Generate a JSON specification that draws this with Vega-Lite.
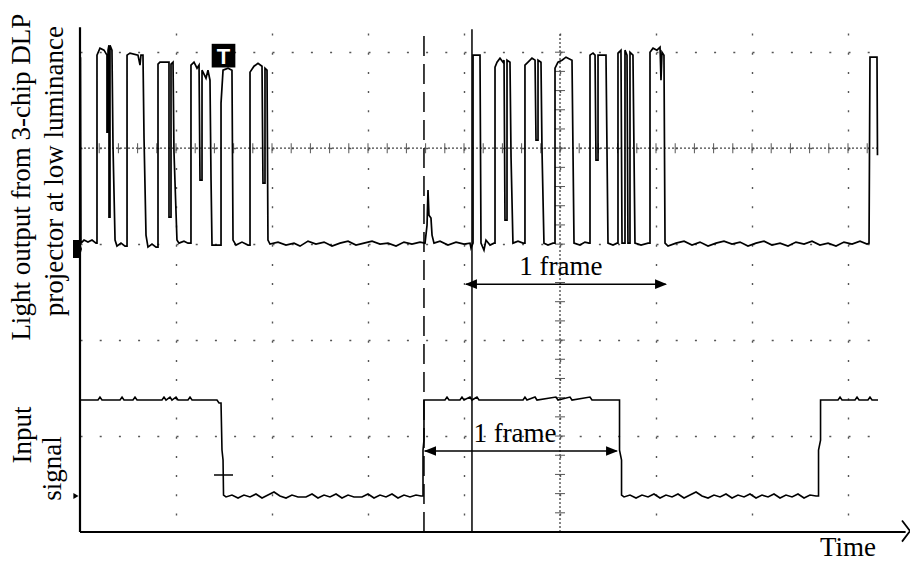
{
  "$schema": "https://vega.github.io/schema/vega-lite/v6.json",
  "autosize": {"type": "none"},
  "padding": {"left": 80, "top": 33, "right": 30, "bottom": 31},
  "width": 800,
  "height": 499,
  "background": "white",
  "config": {"view": {"stroke": null}},
  "datasets": {
    "centerlines": [{"x": 0, "x2": 8.3333, "y": 4, "y2": 4}, {"x": 5, "x2": 5, "y": 0, "y2": 5.2}],
    "hticks": [{"x":0.2,"y":4},{"x":0.4,"y":4},{"x":0.6,"y":4},{"x":0.8,"y":4},{"x":1.0,"y":4},{"x":1.2,"y":4},{"x":1.4,"y":4},{"x":1.6,"y":4},{"x":1.8,"y":4},{"x":2.0,"y":4},{"x":2.2,"y":4},{"x":2.4,"y":4},{"x":2.6,"y":4},{"x":2.8,"y":4},{"x":3.0,"y":4},{"x":3.2,"y":4},{"x":3.4,"y":4},{"x":3.6,"y":4},{"x":3.8,"y":4},{"x":4.0,"y":4},{"x":4.2,"y":4},{"x":4.4,"y":4},{"x":4.6,"y":4},{"x":4.8,"y":4},{"x":5.0,"y":4},{"x":5.2,"y":4},{"x":5.4,"y":4},{"x":5.6,"y":4},{"x":5.8,"y":4},{"x":6.0,"y":4},{"x":6.2,"y":4},{"x":6.4,"y":4},{"x":6.6,"y":4},{"x":6.8,"y":4},{"x":7.0,"y":4},{"x":7.2,"y":4},{"x":7.4,"y":4},{"x":7.6,"y":4},{"x":7.8,"y":4},{"x":8.0,"y":4},{"x":8.2,"y":4}],
    "vticks": [{"x":5,"y":0.2},{"x":5,"y":0.4},{"x":5,"y":0.6},{"x":5,"y":0.8},{"x":5,"y":1.0},{"x":5,"y":1.2},{"x":5,"y":1.4},{"x":5,"y":1.6},{"x":5,"y":1.8},{"x":5,"y":2.0},{"x":5,"y":2.2},{"x":5,"y":2.4},{"x":5,"y":2.6},{"x":5,"y":2.8},{"x":5,"y":3.0},{"x":5,"y":3.2},{"x":5,"y":3.4},{"x":5,"y":3.6},{"x":5,"y":3.8},{"x":5,"y":4.0},{"x":5,"y":4.2},{"x":5,"y":4.4},{"x":5,"y":4.6},{"x":5,"y":4.8},{"x":5,"y":5.0}],
    "dashed": [{"x": 3.583, "x2": 3.583, "y": 0, "y2": 5.24}],
    "solid": [
      {"x": 4.083, "x2": 4.083, "y": 0, "y2": 5.24},
      {"x": 1.396, "x2": 1.594, "y": 0.594, "y2": 0.594},
      {"x": 4.02, "x2": 6.1, "y": 2.583, "y2": 2.583},
      {"x": 3.59, "x2": 5.59, "y": 0.844, "y2": 0.844}
    ],
    "axes": [{"x": 0, "x2": 0, "y": 0, "y2": 5.26}, {"x": 0, "x2": 8.6, "y": 0, "y2": 0}],
    "axisarrow": [{"x": 8.5625, "y": 0.12}, {"x": 8.646, "y": 0.01}, {"x": 8.5625, "y": -0.1}],
    "light": [
      {"x":0.005,"y":4.948},{"x":0.010,"y":3.010},{"x":0.042,"y":3.042},{"x":0.083,"y":3.021},{"x":0.125,"y":3.042},{"x":0.167,"y":3.010},
      {"x":0.177,"y":3.010},{"x":0.177,"y":4.969},{"x":0.208,"y":5.042},{"x":0.25,"y":5.021},{"x":0.281,"y":4.969},{"x":0.281,"y":4.167},{"x":0.292,"y":4.167},{"x":0.292,"y":5.021},{"x":0.302,"y":5.073},{"x":0.302,"y":3.281},{"x":0.3125,"y":3.281},{"x":0.3125,"y":5.073},{"x":0.333,"y":5.021},{"x":0.344,"y":4.010},{"x":0.365,"y":3.042},{"x":0.385,"y":2.979},{"x":0.427,"y":3.010},{"x":0.469,"y":2.979},
      {"x":0.490,"y":2.979},{"x":0.490,"y":4.969},{"x":0.521,"y":4.990},{"x":0.604,"y":4.969},{"x":0.625,"y":4.865},{"x":0.635,"y":4.969},{"x":0.656,"y":4.969},{"x":0.667,"y":4.104},{"x":0.6875,"y":3.094},{"x":0.708,"y":2.969},{"x":0.75,"y":3.0},{"x":0.792,"y":2.969},
      {"x":0.8125,"y":2.969},{"x":0.8125,"y":4.875},{"x":0.833,"y":4.896},{"x":0.927,"y":4.896},{"x":0.927,"y":3.281},{"x":0.948,"y":3.281},{"x":0.948,"y":4.875},{"x":0.969,"y":4.896},{"x":0.979,"y":3.958},{"x":1.010,"y":3.042},{"x":1.031,"y":3.010},{"x":1.083,"y":3.031},{"x":1.125,"y":3.010},
      {"x":1.156,"y":3.010},{"x":1.156,"y":4.865},{"x":1.1875,"y":4.896},{"x":1.219,"y":4.833},{"x":1.240,"y":4.865},{"x":1.25,"y":3.667},{"x":1.271,"y":3.667},{"x":1.271,"y":4.8125},{"x":1.3125,"y":4.729},{"x":1.333,"y":4.8125},{"x":1.354,"y":4.708},{"x":1.365,"y":3.667},{"x":1.375,"y":2.990},{"x":1.448,"y":2.990},
      {"x":1.469,"y":2.990},{"x":1.469,"y":4.469},{"x":1.490,"y":4.8125},{"x":1.542,"y":4.833},{"x":1.583,"y":4.8125},{"x":1.594,"y":3.042},{"x":1.625,"y":2.990},{"x":1.6875,"y":3.021},{"x":1.75,"y":2.990},
      {"x":1.771,"y":2.990},{"x":1.771,"y":4.792},{"x":1.8125,"y":4.854},{"x":1.854,"y":4.885},{"x":1.896,"y":4.854},{"x":1.906,"y":3.635},{"x":1.927,"y":3.635},{"x":1.927,"y":4.833},{"x":1.948,"y":4.8125},{"x":1.958,"y":3.042},{"x":1.979,"y":3.0},
      {"x":2.0625,"y":3.021},{"x":2.146,"y":2.990},{"x":2.229,"y":3.010},{"x":2.292,"y":2.979},{"x":2.375,"y":3.031},{"x":2.458,"y":3.0},{"x":2.542,"y":3.021},{"x":2.625,"y":2.979},{"x":2.708,"y":3.010},{"x":2.792,"y":3.031},{"x":2.875,"y":2.990},{"x":2.958,"y":3.010},{"x":3.042,"y":3.031},{"x":3.125,"y":3.0},{"x":3.208,"y":3.010},{"x":3.292,"y":2.979},{"x":3.375,"y":3.021},{"x":3.458,"y":3.0},{"x":3.542,"y":3.021},{"x":3.594,"y":3.010},
      {"x":3.615,"y":3.198},{"x":3.625,"y":3.5625},{"x":3.635,"y":3.302},{"x":3.656,"y":3.271},{"x":3.667,"y":3.094},{"x":3.6875,"y":3.010},{"x":3.75,"y":3.031},{"x":3.833,"y":2.990},{"x":3.917,"y":3.021},{"x":4.0,"y":3.0},{"x":4.0625,"y":3.010},
      {"x":4.073,"y":2.958},{"x":4.094,"y":3.010},{"x":4.094,"y":4.969},{"x":4.1667,"y":4.969},{"x":4.177,"y":3.010},{"x":4.208,"y":2.9375},{"x":4.229,"y":3.042},{"x":4.271,"y":2.990},{"x":4.3125,"y":3.010},
      {"x":4.323,"y":3.010},{"x":4.323,"y":4.844},{"x":4.344,"y":4.896},{"x":4.375,"y":4.9375},{"x":4.406,"y":4.896},{"x":4.417,"y":4.917},{"x":4.427,"y":3.25},{"x":4.448,"y":3.25},{"x":4.448,"y":4.917},{"x":4.479,"y":4.896},{"x":4.490,"y":3.906},{"x":4.510,"y":3.010},{"x":4.5625,"y":3.031},{"x":4.615,"y":3.010},
      {"x":4.635,"y":3.010},{"x":4.635,"y":4.865},{"x":4.667,"y":4.896},{"x":4.708,"y":4.9375},{"x":4.740,"y":4.917},{"x":4.75,"y":4.083},{"x":4.771,"y":4.083},{"x":4.771,"y":4.917},{"x":4.802,"y":4.896},{"x":4.8125,"y":3.979},{"x":4.833,"y":3.010},{"x":4.875,"y":2.990},{"x":4.927,"y":3.010},
      {"x":4.948,"y":3.010},{"x":4.948,"y":4.833},{"x":4.979,"y":4.896},{"x":5.021,"y":4.917},{"x":5.0625,"y":4.948},{"x":5.125,"y":4.917},{"x":5.146,"y":3.010},{"x":5.208,"y":2.990},{"x":5.26,"y":3.021},{"x":5.302,"y":3.010},
      {"x":5.3125,"y":3.010},{"x":5.3125,"y":4.969},{"x":5.344,"y":4.990},{"x":5.365,"y":4.969},{"x":5.375,"y":3.875},{"x":5.396,"y":3.875},{"x":5.396,"y":4.969},{"x":5.479,"y":4.969},{"x":5.5,"y":3.010},{"x":5.552,"y":2.990},{"x":5.594,"y":3.010},
      {"x":5.604,"y":3.010},{"x":5.604,"y":4.990},{"x":5.635,"y":5.021},{"x":5.646,"y":3.010},{"x":5.677,"y":3.010},{"x":5.677,"y":5.021},{"x":5.698,"y":4.969},{"x":5.708,"y":3.010},{"x":5.729,"y":3.010},{"x":5.729,"y":5.0},{"x":5.760,"y":4.969},{"x":5.781,"y":3.010},{"x":5.844,"y":2.990},{"x":5.917,"y":3.010},
      {"x":5.9375,"y":3.010},{"x":5.9375,"y":5.0},{"x":5.969,"y":5.042},{"x":6.010,"y":5.021},{"x":6.042,"y":5.052},{"x":6.052,"y":4.708},{"x":6.0625,"y":5.0},{"x":6.083,"y":4.969},{"x":6.094,"y":3.010},{"x":6.125,"y":2.979},
      {"x":6.208,"y":3.010},{"x":6.292,"y":3.031},{"x":6.375,"y":2.990},{"x":6.458,"y":3.021},{"x":6.542,"y":2.979},{"x":6.625,"y":3.010},{"x":6.708,"y":3.031},{"x":6.792,"y":3.0},{"x":6.875,"y":3.021},{"x":6.958,"y":2.979},{"x":7.042,"y":3.010},{"x":7.125,"y":3.031},{"x":7.208,"y":2.990},{"x":7.292,"y":3.010},{"x":7.375,"y":2.979},{"x":7.458,"y":3.021},{"x":7.542,"y":3.0},{"x":7.625,"y":3.031},{"x":7.708,"y":2.990},{"x":7.792,"y":3.010},{"x":7.875,"y":2.979},{"x":7.958,"y":3.021},{"x":8.042,"y":3.0},{"x":8.125,"y":3.031},{"x":8.198,"y":3.0},
      {"x":8.219,"y":3.010},{"x":8.229,"y":4.948},{"x":8.302,"y":4.948},{"x":8.307,"y":3.927}
    ],
    "input": [
      {"x":0.0,"y":1.375},{"x":0.1875,"y":1.375},{"x":0.208,"y":1.406},{"x":0.229,"y":1.375},{"x":0.417,"y":1.375},{"x":0.438,"y":1.406},{"x":0.458,"y":1.375},{"x":0.552,"y":1.375},{"x":0.573,"y":1.406},{"x":0.594,"y":1.375},{"x":0.854,"y":1.375},{"x":0.875,"y":1.406},{"x":0.896,"y":1.375},{"x":0.9375,"y":1.406},{"x":0.958,"y":1.375},{"x":1.0,"y":1.406},{"x":1.021,"y":1.375},{"x":1.125,"y":1.375},{"x":1.146,"y":1.406},{"x":1.167,"y":1.375},{"x":1.427,"y":1.375},{"x":1.448,"y":1.344},{"x":1.469,"y":1.344},{"x":1.479,"y":0.854},{"x":1.490,"y":0.75},{"x":1.495,"y":0.385},{"x":1.521,"y":0.365},
      {"x":1.583,"y":0.385},{"x":1.646,"y":0.354},{"x":1.708,"y":0.385},{"x":1.771,"y":0.365},{"x":1.833,"y":0.396},{"x":1.896,"y":0.354},{"x":1.958,"y":0.385},{"x":2.021,"y":0.417},{"x":2.083,"y":0.375},{"x":2.146,"y":0.354},{"x":2.208,"y":0.385},{"x":2.271,"y":0.365},{"x":2.354,"y":0.365},{"x":2.417,"y":0.396},{"x":2.479,"y":0.354},{"x":2.542,"y":0.385},{"x":2.604,"y":0.365},{"x":2.667,"y":0.396},{"x":2.729,"y":0.354},{"x":2.792,"y":0.385},{"x":2.854,"y":0.365},{"x":2.9375,"y":0.365},{"x":3.0,"y":0.396},{"x":3.0625,"y":0.354},{"x":3.125,"y":0.385},{"x":3.1875,"y":0.365},{"x":3.25,"y":0.396},{"x":3.3125,"y":0.354},{"x":3.375,"y":0.385},{"x":3.4375,"y":0.365},{"x":3.5,"y":0.385},{"x":3.552,"y":0.375},
      {"x":3.573,"y":0.375},{"x":3.573,"y":0.854},{"x":3.583,"y":0.958},{"x":3.583,"y":1.375},{"x":3.802,"y":1.375},{"x":3.823,"y":1.406},{"x":3.844,"y":1.375},{"x":3.958,"y":1.375},{"x":3.979,"y":1.406},{"x":4.0,"y":1.375},{"x":4.0625,"y":1.406},{"x":4.083,"y":1.375},{"x":4.135,"y":1.406},{"x":4.156,"y":1.375},{"x":4.615,"y":1.375},{"x":4.635,"y":1.406},{"x":4.656,"y":1.375},{"x":4.740,"y":1.406},{"x":4.760,"y":1.375},{"x":4.958,"y":1.406},{"x":4.979,"y":1.375},{"x":5.104,"y":1.406},{"x":5.125,"y":1.375},{"x":5.3125,"y":1.406},{"x":5.333,"y":1.375},{"x":5.604,"y":1.375},
      {"x":5.620,"y":1.375},{"x":5.620,"y":0.854},{"x":5.641,"y":0.75},{"x":5.641,"y":0.385},{"x":5.667,"y":0.365},
      {"x":5.729,"y":0.385},{"x":5.792,"y":0.354},{"x":5.854,"y":0.385},{"x":5.917,"y":0.365},{"x":5.979,"y":0.396},{"x":6.042,"y":0.354},{"x":6.104,"y":0.385},{"x":6.167,"y":0.365},{"x":6.229,"y":0.396},{"x":6.292,"y":0.354},{"x":6.354,"y":0.385},{"x":6.417,"y":0.417},{"x":6.479,"y":0.375},{"x":6.542,"y":0.354},{"x":6.604,"y":0.385},{"x":6.667,"y":0.365},{"x":6.729,"y":0.396},{"x":6.792,"y":0.354},{"x":6.854,"y":0.385},{"x":6.917,"y":0.365},{"x":6.979,"y":0.396},{"x":7.042,"y":0.354},{"x":7.104,"y":0.385},{"x":7.167,"y":0.365},{"x":7.229,"y":0.396},{"x":7.292,"y":0.354},{"x":7.354,"y":0.385},{"x":7.417,"y":0.365},{"x":7.479,"y":0.396},{"x":7.542,"y":0.354},{"x":7.604,"y":0.385},{"x":7.667,"y":0.375},
      {"x":7.693,"y":0.375},{"x":7.693,"y":0.854},{"x":7.714,"y":0.958},{"x":7.714,"y":1.375},{"x":7.896,"y":1.375},{"x":7.917,"y":1.406},{"x":7.9375,"y":1.375},{"x":8.073,"y":1.375},{"x":8.094,"y":1.406},{"x":8.115,"y":1.375},{"x":8.208,"y":1.375},{"x":8.229,"y":1.406},{"x":8.25,"y":1.375},{"x":8.3125,"y":1.375}
    ],
    "heads": [
      {"x": 4.0725, "y": 2.583, "dir": "left"}, {"x": 6.0525, "y": 2.583, "dir": "right"},
      {"x": 3.646, "y": 0.844, "dir": "left"}, {"x": 5.542, "y": 0.844, "dir": "right"}
    ],
    "ch1": [{"x": -0.026, "y": 2.948}],
    "ch2": [{"x": -0.042, "y": 0.375}],
    "trig": [{"x": 1.495, "y": 4.964, "text": "T"}],
    "labels": [
      {"x": 5.01, "y": 2.677, "text": "1 frame"},
      {"x": 4.531, "y": 0.9375, "text": "1 frame"},
      {"x": 8.0, "y": -0.245, "text": "Time"}
    ],
    "ylabels": [
      {"x": -0.52, "y": 3.698, "text": "Light output from 3-chip DLP"},
      {"x": -0.18, "y": 3.76, "text": "projector at low luminance"},
      {"x": -0.51, "y": 1.01, "text": "Input"},
      {"x": -0.198, "y": 0.661, "text": "signal"}
    ]
  },
  "encoding": {
    "x": {"field": "x", "type": "quantitative", "scale": {"domain": [0, 8.3333], "nice": false, "zero": false},
      "axis": {"values": [1, 2, 3, 4, 5, 6, 7, 8], "grid": true, "gridDash": [2, 17.2], "gridColor": "#555", "gridWidth": 1.4, "labels": false, "ticks": false, "domain": false, "title": null}},
    "y": {"field": "y", "type": "quantitative", "scale": {"domain": [0, 5.2], "nice": false, "zero": false},
      "axis": {"values": [1, 2, 3, 4, 5], "grid": true, "gridDash": [2, 17.2], "gridColor": "#555", "gridWidth": 1.4, "labels": false, "ticks": false, "domain": false, "title": null}}
  },
  "layer": [
    {"data": {"name": "centerlines"}, "mark": {"type": "rule", "strokeDash": [2, 2], "color": "#444", "strokeWidth": 1.3},
      "encoding": {"x2": {"field": "x2"}, "y2": {"field": "y2"}}},
    {"data": {"name": "hticks"}, "mark": {"type": "tick", "orient": "vertical", "size": 10, "thickness": 1, "color": "#555", "opacity": 1}},
    {"data": {"name": "vticks"}, "mark": {"type": "tick", "orient": "horizontal", "size": 10, "thickness": 1, "color": "#555", "opacity": 1}},
    {"data": {"name": "dashed"}, "mark": {"type": "rule", "strokeDash": [20, 8], "color": "black", "strokeWidth": 1.5},
      "encoding": {"x2": {"field": "x2"}, "y2": {"field": "y2"}}},
    {"data": {"name": "solid"}, "mark": {"type": "rule", "color": "black", "strokeWidth": 1.5},
      "encoding": {"x2": {"field": "x2"}, "y2": {"field": "y2"}}},
    {"data": {"name": "axes"}, "mark": {"type": "rule", "color": "black", "strokeWidth": 2.2},
      "encoding": {"x2": {"field": "x2"}, "y2": {"field": "y2"}}},
    {"data": {"name": "axisarrow"}, "mark": {"type": "line", "color": "black", "strokeWidth": 1.8},
      "encoding": {"order": {"value": null}}},
    {"data": {"name": "light"}, "mark": {"type": "line", "color": "black", "strokeWidth": 1.7},
      "encoding": {"order": {"value": null}}},
    {"data": {"name": "input"}, "mark": {"type": "line", "color": "black", "strokeWidth": 1.6},
      "encoding": {"order": {"value": null}}},
    {"data": {"name": "heads"}, "mark": {"type": "point", "filled": true, "color": "black", "opacity": 1, "size": 144},
      "encoding": {"shape": {"field": "dir", "type": "nominal", "scale": {"domain": ["left", "right"], "range": ["M-1,0L1,-0.8L1,0.8Z", "M1,0L-1,-0.8L-1,0.8Z"]}, "legend": null}}},
    {"data": {"name": "ch1"}, "mark": {"type": "point", "filled": true, "color": "black", "opacity": 1, "size": 324, "shape": "M-0.5,-1L0.2,-1L0.5,0L0.2,1L-0.5,1Z"}},
    {"data": {"name": "ch2"}, "mark": {"type": "point", "filled": true, "color": "black", "opacity": 1, "size": 36, "shape": "triangle-right"}},
    {"data": {"name": "trig"}, "mark": {"type": "square", "color": "black", "opacity": 1, "size": 560}},
    {"data": {"name": "trig"}, "mark": {"type": "text", "color": "white", "font": "Liberation Sans", "fontWeight": "bold", "fontSize": 22, "align": "center", "baseline": "middle", "dy": 1},
      "encoding": {"text": {"field": "text"}}},
    {"data": {"name": "labels"}, "mark": {"type": "text", "color": "black", "font": "Liberation Serif", "fontSize": 27, "align": "center", "baseline": "alphabetic"},
      "encoding": {"text": {"field": "text"}}},
    {"data": {"name": "ylabels"}, "mark": {"type": "text", "color": "black", "font": "Liberation Serif", "fontSize": 27, "align": "center", "baseline": "alphabetic", "angle": 270},
      "encoding": {"text": {"field": "text"}}}
  ]
}
